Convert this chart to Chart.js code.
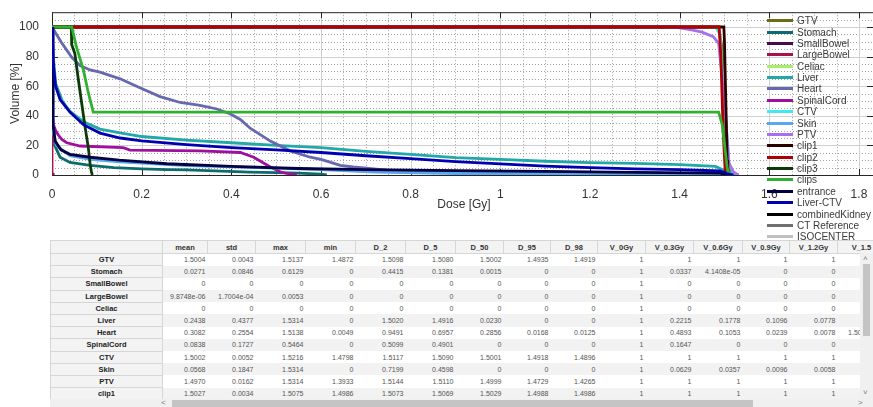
<!DOCTYPE html>
<html>
<head>
<meta charset="utf-8">
<script src="https://cdn.jsdelivr.net/npm/chart.js@4.4.0/dist/chart.umd.min.js"></script>
<style>
  body { margin: 0; background: #fff; width: 873px; height: 407px; overflow: hidden; position: relative; font-family: "Liberation Sans", Arial, sans-serif; }
  #chartBox { position: absolute; left: 0; top: 0; width: 876px; height: 215px; }
  #legend { position: absolute; left: 767px; top: 15px; z-index: 2; }
  .legend-item { height: 11.38px; display: flex; align-items: center; font-size: 10px; color: #3a3a3a; white-space: nowrap; }
  .legend-item span.swatch { display: inline-block; width: 26px; height: 3px; margin-right: 4px; }
  #tableWrap { position: absolute; left: 50px; top: 240px; width: 823px; height: 167px; overflow: hidden; background: #fff; z-index: 1; }
  #stats { border-collapse: collapse; table-layout: fixed; font-size: 7px; color: #555; }
  #stats th { height: 12px; background: #f3f3f3; color: #333; font-weight: bold; font-size: 7.5px; border-right: 1px solid #d6d6d6; border-top: 1px solid #d6d6d6; border-bottom: 1px solid #d6d6d6; padding: 0; text-align: center; overflow: hidden; white-space: nowrap; }
  #stats td { height: 11.2px; padding: 0 2px 0 0; text-align: right; white-space: nowrap; overflow: hidden; }
  #stats tr.alt td { background: #f2f2f2; }
  #stats td.rowname { background: #f3f3f3 !important; color: #222; font-weight: bold; font-size: 7.5px; text-align: center; border: 1px solid #d6d6d6; padding: 0; }
  #vbar { position: absolute; left: 810px; top: 13px; width: 13px; height: 146px; background: #f0f0f0; }
  #vthumb { position: absolute; left: 3px; top: 11px; width: 7px; height: 72px; background: #c4c4c4; }
  #hbar { position: absolute; left: 0; top: 159px; width: 823px; height: 8px; background: #f0f0f0; }
  #hthumb { position: absolute; left: 122px; top: 1px; width: 581px; height: 7px; background: #c4c4c4; }
  .arrow { position: absolute; font-size: 8px; color: #777; line-height: 8px; }
</style>
</head>
<body>
<div id="chartBox"><canvas id="dvh"></canvas></div>
<div id="legend"></div>
<div id="tableWrap">
  <table id="stats"></table>
  <div id="vbar"><div id="vthumb"></div><span class="arrow" style="left:3px;top:2px;">&#708;</span><span class="arrow" style="left:3px;top:136px;">&#709;</span></div>
  <div id="hbar"><div id="hthumb"></div><span class="arrow" style="left:111px;top:0;">&lt;</span><span class="arrow" style="left:808px;top:0;">&gt;</span></div>
</div>
<script>
// axis ticks
const doseTicks = [0, 0.2, 0.4, 0.6, 0.8, 1, 1.2, 1.4, 1.6, 1.8];
const volumeTicks = [0, 20, 40, 60, 80, 100];
const doseMinorStep = 0.05;
const volumeMinorStep = 5;

// DVH curves, [dose Gy, volume %]
const gtv = [[0, 100], [1.487, 100], [1.495, 85], [1.5, 50], [1.506, 12], [1.514, 0]];
const stomach = [[0, 100], [0.002, 40], [0.006, 20], [0.018, 12], [0.04, 8.5], [0.085, 6.5], [0.138, 5], [0.2, 4.2], [0.256, 3.6], [0.3, 3.4], [0.44, 2], [0.5, 1.6], [0.55, 1.2], [0.6, 0.6], [0.613, 0]];
const smallBowel = [];
const largeBowel = [[0, 100], [0, 1], [0.0053, 0]];
const celiac = [];
const liver = [[0, 100], [0.003, 80], [0.008, 62], [0.023, 50], [0.04, 43], [0.07, 36], [0.107, 31], [0.152, 28.5], [0.2, 26], [0.3, 23.5], [0.4, 21.8], [0.5, 20], [0.6, 18.5], [0.7, 16], [0.8, 14], [0.9, 11.8], [1, 10.5], [1.1, 9.3], [1.2, 8.3], [1.3, 7.9], [1.4, 7], [1.48, 5.8], [1.5, 3], [1.515, 1], [1.531, 0]];
const heart = [[0, 100], [0.02, 90], [0.044, 79.5], [0.0625, 74], [0.085, 71], [0.107, 69.5], [0.152, 65], [0.196, 59], [0.241, 53], [0.286, 49], [0.33, 47], [0.368, 44.6], [0.397, 41.4], [0.42, 37.5], [0.442, 31.6], [0.487, 22.9], [0.531, 16.3], [0.576, 12], [0.6, 10.5], [0.62, 8.7], [0.643, 6.5], [0.672, 5.4], [0.747, 3.3], [0.8, 2.9], [0.9, 2.4], [1, 1.8], [1.1, 1.2], [1.2, 0.8], [1.3, 0.5], [1.4, 0.3], [1.5, 0.1], [1.514, 0]];
const spinalCord = [[0, 100], [0.002, 35], [0.008, 30], [0.014, 27], [0.022, 24], [0.033, 21.8], [0.0625, 19.6], [0.159, 18.5], [0.174, 16.8], [0.33, 16.3], [0.42, 15.2], [0.45, 12], [0.487, 5.4], [0.51, 2], [0.524, 1.1], [0.546, 0]];
const ctv = [[0, 100], [1.48, 100], [1.49, 95], [1.5, 50], [1.51, 8], [1.522, 0]];
const skin = [[0, 100], [0.002, 30], [0.01, 20], [0.04, 13], [0.085, 10.5], [0.15, 8.8], [0.3, 6.3], [0.46, 5], [0.6, 3.6], [0.72, 2], [0.9, 1], [1.2, 0.58], [1.5, 0.2], [1.531, 0]];
const ptv = [[0, 100], [1.39, 100], [1.4265, 98], [1.45, 96.5], [1.475, 93.5], [1.487, 89], [1.4999, 50], [1.51, 8], [1.52, 2], [1.531, 0]];
const clip1 = [[0, 100], [1.4986, 100], [1.5, 90], [1.503, 50], [1.506, 10], [1.5075, 0]];
const clip2 = [[0, 100], [1.488, 100], [1.492, 80], [1.497, 30], [1.502, 0]];
const clip3 = [[0, 100], [0.043, 100], [0.044, 88], [0.051, 82], [0.059, 64], [0.066, 49], [0.074, 32], [0.081, 18.5], [0.085, 7.5], [0.088, 2], [0.09, 0]];
const clips = [[0, 100], [0.044, 100], [0.055, 86], [0.07, 71], [0.081, 55.6], [0.092, 42.5], [1.487, 42.5], [1.495, 34], [1.506, 5.4], [1.509, 0]];
const entrance = [[0, 100], [0.002, 35], [0.007, 23], [0.02, 17], [0.04, 14], [0.085, 12], [0.15, 10], [0.256, 7.6], [0.4, 5.8], [0.55, 4.4], [0.7, 3.6], [0.9, 3], [1.1, 2.4], [1.3, 1.8], [1.49, 1.2], [1.51, 0]];
const liverCtv = [[0, 100], [0.003, 75], [0.008, 60], [0.018, 51], [0.04, 42.5], [0.07, 34], [0.107, 28.3], [0.152, 25], [0.2, 23], [0.3, 20.5], [0.4, 18.5], [0.5, 17], [0.6, 15.2], [0.7, 13], [0.8, 11], [0.9, 9], [1, 7.5], [1.1, 6], [1.2, 5], [1.3, 4.2], [1.4, 3.6], [1.49, 2.7], [1.505, 1], [1.52, 0]];
const combinedKidney = [];
const ctReference = [];
const isocenter = [];

const structureNames = ['GTV', 'Stomach', 'SmallBowel', 'LargeBowel', 'Celiac', 'Liver', 'Heart', 'SpinalCord', 'CTV', 'Skin', 'PTV', 'clip1', 'clip2', 'clip3', 'clips', 'entrance', 'Liver-CTV', 'combinedKidney', 'CT Reference', 'ISOCENTER'];
const structureCurves = [gtv, stomach, smallBowel, largeBowel, celiac, liver, heart, spinalCord, ctv, skin, ptv, clip1, clip2, clip3, clips, entrance, liverCtv, combinedKidney, ctReference, isocenter];
const structureColors = ['#6b6b1a', '#0e6b6b', '#4b0b4b', '#a8104e', '#a8f060', '#22a8a8', '#6668b0', '#a010a0', '#40e8f0', '#58a8f0', '#a870f0', '#2a0000', '#b00000', '#0a3a0a', '#30b030', '#000044', '#0000b0', '#000000', '#707070', '#c0c0c0'];

// stats table
const statColumns = ['mean', 'std', 'max', 'min', 'D_2', 'D_5', 'D_50', 'D_95', 'D_98', 'V_0Gy', 'V_0.3Gy', 'V_0.6Gy', 'V_0.9Gy', 'V_1.2Gy', 'V_1.5'];
const statRows = ['GTV', 'Stomach', 'SmallBowel', 'LargeBowel', 'Celiac', 'Liver', 'Heart', 'SpinalCord', 'CTV', 'Skin', 'PTV', 'clip1'];
const gtvStats = ['1.5004', '0.0043', '1.5137', '1.4872', '1.5098', '1.5080', '1.5002', '1.4935', '1.4919', '1', '1', '1', '1', '1', '0.5150'];
const stomachStats = ['0.0271', '0.0846', '0.6129', '0', '0.4415', '0.1381', '0.0015', '0', '0', '1', '0.0337', '4.1408e-05', '0', '0', '0'];
const smallBowelStats = ['0', '0', '0', '0', '0', '0', '0', '0', '0', '1', '0', '0', '0', '0', '0'];
const largeBowelStats = ['9.8748e-06', '1.7004e-04', '0.0053', '0', '0', '0', '0', '0', '0', '1', '0', '0', '0', '0', '0'];
const celiacStats = ['0', '0', '0', '0', '0', '0', '0', '0', '0', '1', '0', '0', '0', '0', '0'];
const liverStats = ['0.2438', '0.4377', '1.5314', '0', '1.5020', '1.4916', '0.0230', '0', '0', '1', '0.2215', '0.1778', '0.1096', '0.0778', '0.0270'];
const heartStats = ['0.3082', '0.2554', '1.5138', '0.0049', '0.9491', '0.6957', '0.2856', '0.0168', '0.0125', '1', '0.4893', '0.1053', '0.0239', '0.0078', '1.5096e-04'];
const spinalCordStats = ['0.0838', '0.1727', '0.5464', '0', '0.5099', '0.4901', '0', '0', '0', '1', '0.1647', '0', '0', '0', '0'];
const ctvStats = ['1.5002', '0.0052', '1.5216', '1.4798', '1.5117', '1.5090', '1.5001', '1.4918', '1.4896', '1', '1', '1', '1', '1', '0.5010'];
const skinStats = ['0.0568', '0.1847', '1.5314', '0', '0.7199', '0.4598', '0', '0', '0', '1', '0.0629', '0.0357', '0.0096', '0.0058', '0.0019'];
const ptvStats = ['1.4970', '0.0162', '1.5314', '1.3933', '1.5144', '1.5110', '1.4999', '1.4729', '1.4265', '1', '1', '1', '1', '1', '0.4980'];
const clip1Stats = ['1.5027', '0.0034', '1.5075', '1.4986', '1.5073', '1.5069', '1.5029', '1.4988', '1.4986', '1', '1', '1', '1', '1', '0.6204'];
const statValues = [gtvStats, stomachStats, smallBowelStats, largeBowelStats, celiacStats, liverStats, heartStats, spinalCordStats, ctvStats, skinStats, ptvStats, clip1Stats];

const columnWidths = [112, 45, 48, 50, 50, 50, 50, 48, 47, 47, 48, 48, 49, 47, 48, 48];

function buildTable() {
    const table = document.getElementById('stats');
    const total = columnWidths.reduce((a, b) => a + b, 0);
    table.style.width = total + 'px';
    let html = '<colgroup>' + columnWidths.map(w => `<col style="width:${w}px">`).join('') + '</colgroup>';
    html += '<tr><th style="border-left:1px solid #d6d6d6"></th>' + statColumns.map(c => `<th>${c}</th>`).join('') + '</tr>';
    statRows.forEach((name, i) => {
        html += `<tr class="${i % 2 === 1 ? 'alt' : ''}"><td class="rowname">${name}</td>` +
            statValues[i].map(v => `<td>${v}</td>`).join('') + '</tr>';
    });
    table.innerHTML = html;
}

function buildLegend() {
    const legend = document.getElementById('legend');
    structureNames.forEach((name, i) => {
        const item = document.createElement('div');
        item.className = 'legend-item';
        item.innerHTML = `<span class="swatch" style="background:${structureColors[i]}"></span>${name}`;
        legend.appendChild(item);
    });
}

const isMajor = (list, v) => list.some(t => Math.abs(t - v) < 1e-6);

// grid, box and inward tick marks like a matlab axes
const framePlugin = {
    id: 'frame',
    beforeDatasetsDraw(chart) {
        const { ctx, chartArea: a, scales } = chart;
        ctx.save();
        ctx.lineWidth = 1;
        // minor grid, dotted
        ctx.strokeStyle = '#a0a0a0';
        ctx.setLineDash([1, 2]);
        ctx.beginPath();
        for (let k = 1; k * doseMinorStep < scales.x.max; k++) {
            const v = k * doseMinorStep;
            if (isMajor(doseTicks, v)) continue;
            const x = Math.round(scales.x.getPixelForValue(v)) + 0.5;
            ctx.moveTo(x, a.top); ctx.lineTo(x, a.bottom);
        }
        for (let k = 1; k * volumeMinorStep < scales.y.max; k++) {
            const v = k * volumeMinorStep;
            if (isMajor(volumeTicks, v)) continue;
            const y = Math.round(scales.y.getPixelForValue(v)) + 0.5;
            ctx.moveTo(a.left, y); ctx.lineTo(a.right, y);
        }
        ctx.stroke();
        // major grid, solid
        ctx.setLineDash([]);
        ctx.strokeStyle = '#d0d0d0';
        ctx.beginPath();
        doseTicks.forEach(v => {
            const x = Math.round(scales.x.getPixelForValue(v)) + 0.5;
            ctx.moveTo(x, a.top); ctx.lineTo(x, a.bottom);
        });
        volumeTicks.forEach(v => {
            const y = Math.round(scales.y.getPixelForValue(v)) + 0.5;
            ctx.moveTo(a.left, y); ctx.lineTo(a.right, y);
        });
        ctx.stroke();
        // box and ticks
        ctx.strokeStyle = '#262626';
        ctx.strokeRect(a.left + 0.5, a.top + 0.5, a.right - a.left - 1, a.bottom - a.top);
        ctx.beginPath();
        doseTicks.forEach(v => {
            const x = Math.round(scales.x.getPixelForValue(v)) + 0.5;
            ctx.moveTo(x, a.bottom); ctx.lineTo(x, a.bottom - 6);
            ctx.moveTo(x, a.top); ctx.lineTo(x, a.top + 6);
        });
        volumeTicks.forEach(v => {
            const y = Math.round(scales.y.getPixelForValue(v)) + 0.5;
            ctx.moveTo(a.left, y); ctx.lineTo(a.left + 6, y);
            ctx.moveTo(a.right, y); ctx.lineTo(a.right - 9, y);
        });
        ctx.stroke();
        ctx.restore();
    }
};

function initializeChart() {
    const ctx = document.getElementById('dvh').getContext('2d');
    const datasets = structureNames.map((name, i) => ({
        label: name,
        data: structureCurves[i].map(p => ({ x: p[0], y: p[1] })),
        borderColor: structureColors[i],
        backgroundColor: structureColors[i],
        borderWidth: 2.8,
        pointRadius: 0,
        tension: 0,
        order: -i // later structures on top
    }));
    const tickFont = { family: '"Liberation Sans", Arial, sans-serif', size: 12 };
    new Chart(ctx, {
        type: 'line',
        data: { datasets },
        plugins: [framePlugin],
        options: {
            responsive: true,
            maintainAspectRatio: false,
            animation: false,
            layout: { padding: { top: 7, left: 0, right: 0, bottom: 0 } },
            plugins: { legend: { display: false }, tooltip: { enabled: false } },
            scales: {
                x: {
                    type: 'linear',
                    min: 0,
                    max: 1.838,
                    afterBuildTicks: scale => { scale.ticks = doseTicks.map(v => ({ value: v })); },
                    afterFit: scale => { scale.height = 40; },
                    ticks: {
                        autoSkip: false,
                        maxRotation: 0,
                        padding: 4,
                        color: '#333',
                        font: tickFont,
                        callback: v => String(v)
                    },
                    grid: { display: false },
                    border: { display: false },
                    title: { display: true, text: 'Dose [Gy]', color: '#333', font: tickFont, padding: { top: 0, bottom: 3 } }
                },
                y: {
                    min: 0,
                    max: 110,
                    afterBuildTicks: scale => { scale.ticks = volumeTicks.map(v => ({ value: v })); },
                    afterFit: scale => { scale.width = 52; },
                    ticks: {
                        autoSkip: false,
                        padding: 5,
                        color: '#333',
                        font: tickFont,
                        callback: v => String(v)
                    },
                    grid: { display: false },
                    border: { display: false },
                    title: { display: true, text: 'Volume [%]', color: '#333', font: tickFont, padding: { top: 8, bottom: 0 } }
                }
            }
        }
    });
}

buildLegend();
buildTable();
initializeChart();
</script>
</body>
</html>
